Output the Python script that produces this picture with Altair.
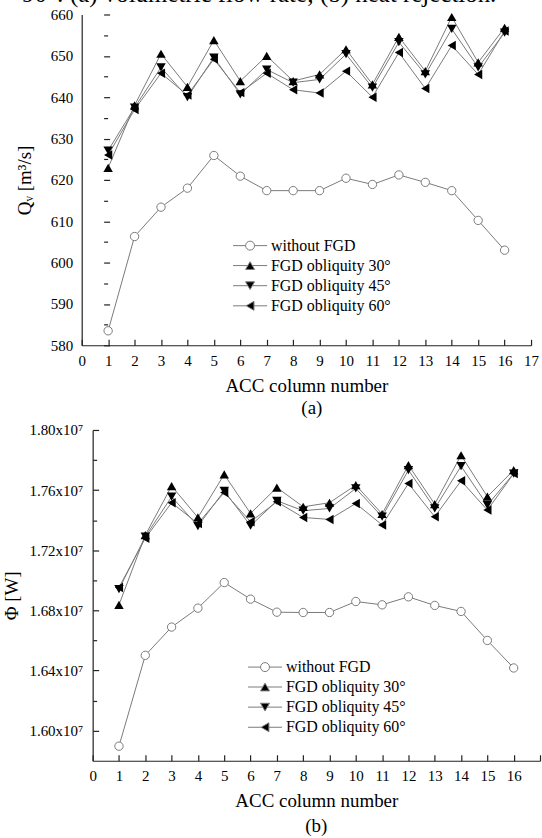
import altair as alt
import pandas as pd

FONT = "Liberation Serif"
GRAY = "#7a7a7a"
AXC = "#222222"

columns = list(range(1, 17))
series_names = ["without FGD", "FGD obliquity 30°", "FGD obliquity 45°", "FGD obliquity 60°"]

# (a) volumetric flow rate Qv [m3/s]
qv_without = [583.5, 606.3, 613.4, 618.0, 625.9, 620.9, 617.4, 617.4, 617.4, 620.4, 618.9, 621.2, 619.4, 617.4, 610.2, 603.0]
qv_30 = [622.9, 638.0, 650.5, 642.5, 653.8, 643.9, 650.0, 643.9, 645.5, 651.6, 643.1, 654.6, 646.3, 659.4, 648.4, 656.8]
qv_45 = [627.1, 637.5, 647.2, 640.0, 649.6, 640.7, 646.7, 643.5, 644.3, 650.4, 642.3, 653.3, 645.5, 656.5, 647.2, 655.6]
qv_60 = [626.0, 637.0, 645.8, 640.5, 649.2, 641.1, 645.8, 641.8, 641.0, 646.3, 640.0, 650.8, 642.1, 652.5, 645.5, 656.0]

# (b) heat rejection Phi [W]
phi_without = [1.5897e7, 1.6501e7, 1.6689e7, 1.6815e7, 1.6985e7, 1.6875e7, 1.6788e7, 1.6786e7, 1.6786e7, 1.6859e7, 1.6837e7, 1.6890e7, 1.6833e7, 1.6793e7, 1.6600e7, 1.6417e7]
phi_30 = [1.6837e7, 1.7300e7, 1.7627e7, 1.7418e7, 1.7704e7, 1.7445e7, 1.7617e7, 1.7489e7, 1.7516e7, 1.7633e7, 1.7441e7, 1.7766e7, 1.7507e7, 1.7832e7, 1.7556e7, 1.7733e7]
phi_45 = [1.6941e7, 1.7290e7, 1.7556e7, 1.7361e7, 1.7595e7, 1.7363e7, 1.7529e7, 1.7463e7, 1.7478e7, 1.7611e7, 1.7423e7, 1.7733e7, 1.7478e7, 1.7759e7, 1.7500e7, 1.7710e7]
phi_60 = [1.6952e7, 1.7280e7, 1.7516e7, 1.7378e7, 1.7584e7, 1.7390e7, 1.7522e7, 1.7418e7, 1.7405e7, 1.7511e7, 1.7368e7, 1.7644e7, 1.7423e7, 1.7662e7, 1.7467e7, 1.7710e7]

qv_ticks = [580, 590, 600, 610, 620, 630, 640, 650, 660]
qv_minor = [585, 595, 605, 615, 625, 635, 645, 655]
phi_ticks = [16000000, 16400000, 16800000, 17200000, 17600000, 18000000]
phi_minor = [16200000, 16600000, 17000000, 17400000, 17800000]
x_ticks = list(range(0, 18))

caption = "90°: (a) volumetric flow rate; (b) heat rejection."

# legend symbols: a line with the marker in the middle
circle_path = "M-3.8,0L-1,0M1,0L3.8,0M1,0A1,1,0,1,1,-1,0A1,1,0,1,1,1,0Z"
tri_paths = [
    "M-3.8,0L-0.5,0M0.5,0L3.8,0M0,-0.866L1,0.866L-1,0.866Z",
    "M-3.8,0L-0.5,0M0.5,0L3.8,0M0,0.866L1,-0.866L-1,-0.866Z",
    "M-3.8,0L-0.866,0M0.866,0L3.8,0M-0.866,0L0.866,-1L0.866,1Z",
]


def make_df(vals):
    rows = []
    for name, v in zip(series_names, vals):
        for c, y in zip(columns, v):
            rows.append({"col": c, "val": y, "series": name})
    return pd.DataFrame(rows)


def panel(df, W, H, xrange, yoff, ydomain, ymajor, yminor, ylabel_expr, ytitle,
          ylabel_pad, ytitle_pad, xlabels, xticks, cap, cap_off, legx, legy_c, legy_t, lab_off):
    xs = alt.Scale(domain=[0, 17], range=xrange, nice=False, zero=False)
    ys = alt.Scale(domain=ydomain, nice=False, zero=False)
    base = alt.Chart(df)

    ymain_kw = dict(values=ymajor, ticks=False, domain=True, domainColor=AXC, domainWidth=1.2,
                    grid=False, labelFont=FONT, labelFontSize=15, labelColor="black",
                    labelPadding=ylabel_pad, labelExpr=ylabel_expr, title=ytitle, titleFont=FONT,
                    titleFontSize=19, titleFontWeight="normal", titleColor="black",
                    titlePadding=ytitle_pad, orient="left", offset=yoff)
    xmain = alt.Axis(values=xlabels, ticks=False, domain=True, domainColor=AXC, domainWidth=1.2,
                     grid=False, labelFont=FONT, labelFontSize=15, labelColor="black",
                     labelPadding=8, format="d", title="ACC column number", titleFont=FONT,
                     titleFontSize=19, titleFontWeight="normal", titleColor="black",
                     titlePadding=8, orient="bottom", labelFlush=False)
    xtick_axis = alt.Axis(values=xticks, orient="top", offset=-H, labels=False, domain=False,
                          ticks=True, tickSize=6, tickColor=AXC, tickWidth=1.2, grid=False, title=None)
    ymajor_axis = alt.Axis(values=ymajor, orient="right", offset=-(W - yoff), labels=False,
                           domain=False, ticks=True, tickSize=6, tickColor=AXC, tickWidth=1.2,
                           grid=False, title=None)
    yminor_axis = alt.Axis(values=yminor, orient="right", offset=-(W - yoff), labels=False,
                           domain=False, ticks=True, tickSize=4, tickColor=AXC, tickWidth=1.2,
                           grid=False, title=None)

    lines = base.mark_line(color=GRAY, strokeWidth=1).encode(
        x=alt.X("col:Q", scale=xs, axis=xmain),
        y=alt.Y("val:Q", scale=ys, axis=alt.Axis(**ymain_kw)),
        detail="series:N",
    )
    circles = base.transform_filter(alt.datum.series == series_names[0]).mark_point(
        shape="circle", filled=True, fill="white", stroke=GRAY, strokeWidth=1, size=70, opacity=1
    ).encode(
        x=alt.X("col:Q", scale=xs, axis=xtick_axis),
        y=alt.Y("val:Q", scale=ys, axis=yminor_axis),
    )
    tris = base.transform_filter(alt.datum.series != series_names[0]).mark_point(
        filled=True, fill="black", size=90, opacity=1
    ).encode(
        x=alt.X("col:Q", scale=xs, axis=None),
        y=alt.Y("val:Q", scale=ys, axis=ymajor_axis),
        shape=alt.Shape("series:N", scale=alt.Scale(domain=series_names[1:],
                        range=["triangle-up", "triangle-down", "triangle-left"]), legend=None),
    )
    leg_common = dict(orient="none", title=None, symbolSize=81, symbolOpacity=1,
                      labelFont=FONT, labelFontSize=16, labelColor="black", labelOffset=lab_off,
                      rowPadding=4.2, padding=0, symbolStrokeWidth=1, legendX=legx)
    leg_c = base.transform_filter(alt.datum.series == series_names[0]).mark_point(
        filled=True, fill="white", stroke=GRAY, strokeWidth=1, opacity=0
    ).encode(
        x=alt.X("col:Q", scale=xs, axis=None),
        y=alt.Y("val:Q", scale=ys, axis=None),
        shape=alt.Shape("series:N", scale=alt.Scale(domain=series_names[:1], range=[circle_path]),
                        legend=alt.Legend(legendY=legy_c, **leg_common)),
    )
    leg_t = base.transform_filter(alt.datum.series != series_names[0]).mark_point(
        filled=True, fill="black", stroke=GRAY, strokeWidth=1, opacity=0
    ).encode(
        x=alt.X("col:Q", scale=xs, axis=None),
        y=alt.Y("val:Q", scale=ys, axis=None),
        shape=alt.Shape("series:N", scale=alt.Scale(domain=series_names[1:], range=tri_paths),
                        legend=alt.Legend(legendY=legy_t, **leg_common)),
    )
    return alt.layer(lines, circles, tris, leg_c, leg_t).resolve_scale(
        shape="independent"
    ).resolve_axis(x="independent", y="independent").properties(
        width=W, height=H,
        title=alt.TitleParams(cap, orient="bottom", anchor="middle", font=FONT, fontSize=19,
                              fontWeight="normal", color="black", offset=cap_off),
    )


top = panel(make_df([qv_without, qv_30, qv_45, qv_60]), W=440, H=332, xrange=[-11, 440], yoff=11,
            ydomain=[580, 660], ymajor=qv_ticks, yminor=qv_minor,
            ylabel_expr="format(datum.value, 'd')", ytitle="Qᵥ [m³/s]",
            ylabel_pad=9, ytitle_pad=16, xlabels=x_ticks, xticks=x_ticks, cap="(a)", cap_off=4,
            legx=150, legy_c=224, legy_t=244, lab_off=13)

bottom = panel(make_df([phi_without, phi_30, phi_45, phi_60]), W=449, H=332, xrange=[0, 449], yoff=0,
               ydomain=[15800000, 18000000], ymajor=phi_ticks, yminor=phi_minor,
               ylabel_expr="format(datum.value / 10000000, '.2f') + 'x10⁷'", ytitle="Φ [W]",
               ylabel_pad=10, ytitle_pad=7, xlabels=list(range(0, 17)), xticks=x_ticks, cap="(b)",
               cap_off=7, legx=165, legy_c=230, legy_t=250, lab_off=13)

chart = alt.vconcat(top, bottom, spacing=5).properties(
    title=alt.TitleParams(caption, font=FONT, fontSize=25, fontWeight="normal", anchor="start",
                          frame="bounds", dx=19, offset=1, color="black"),
    padding={"left": 3, "right": 0, "top": -20, "bottom": 0},
    background="white",
).configure_view(stroke=None)

chart.save("out.html", embed_options={"renderer": "svg", "actions": False})
